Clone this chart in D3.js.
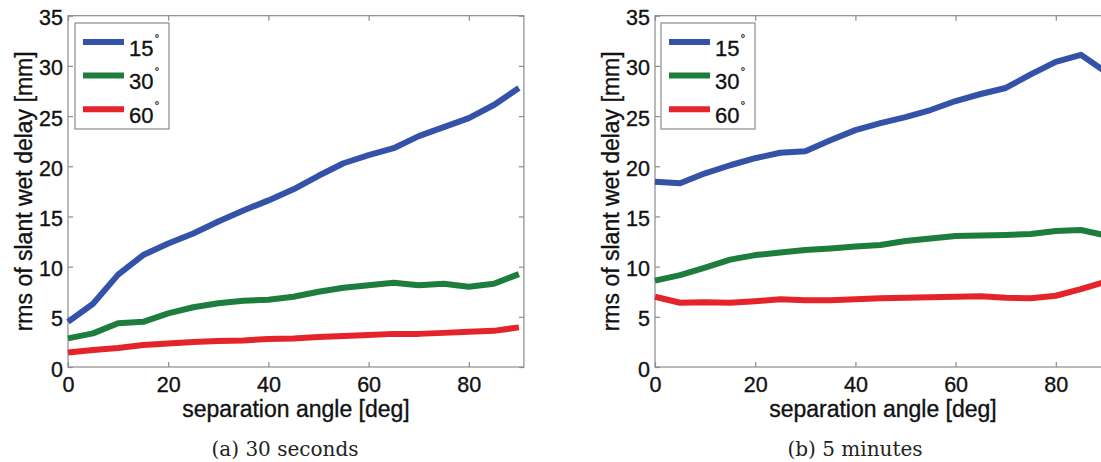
<!DOCTYPE html>
<html>
<head>
<meta charset="utf-8">
<script src="https://cdn.jsdelivr.net/npm/d3@7"></script>
<style>
  html, body { margin: 0; padding: 0; background: #fff; }
  svg { display: block; }
</style>
</head>
<body>
<svg id="chart" width="1101" height="462"></svg>
<script>
// ---- data ----
const angles = [0, 5, 10, 15, 20, 25, 30, 35, 40, 45, 50, 55, 60, 65, 70, 75, 80, 85, 90];
const seriesNames = ["15", "30", "60"];
const xTicks = [0, 20, 40, 60, 80];
const yTicks = [0, 5, 10, 15, 20, 25, 30, 35];

// panel (a) 30 seconds
const a15 = [4.5, 6.3, 9.2, 11.15, 12.3, 13.3, 14.5, 15.6, 16.6, 17.7, 19.05, 20.3, 21.1, 21.8, 23.0, 23.9, 24.8, 26.1, 27.8];
const a30 = [2.85, 3.35, 4.35, 4.5, 5.35, 5.95, 6.35, 6.6, 6.7, 7.0, 7.5, 7.9, 8.15, 8.4, 8.15, 8.3, 8.0, 8.3, 9.25];
const a60 = [1.45, 1.7, 1.9, 2.2, 2.35, 2.5, 2.6, 2.65, 2.8, 2.85, 3.0, 3.1, 3.2, 3.3, 3.3, 3.4, 3.5, 3.6, 3.95];

// panel (b) 5 minutes
const b15 = [18.45, 18.3, 19.3, 20.1, 20.8, 21.35, 21.5, 22.6, 23.6, 24.3, 24.9, 25.6, 26.5, 27.2, 27.8, 29.15, 30.4, 31.1, 29.4];
const b30 = [8.6, 9.15, 9.9, 10.7, 11.15, 11.4, 11.65, 11.8, 12.0, 12.15, 12.55, 12.8, 13.05, 13.1, 13.15, 13.25, 13.55, 13.65, 13.1];
const b60 = [7.0, 6.4, 6.45, 6.4, 6.55, 6.75, 6.65, 6.65, 6.75, 6.85, 6.9, 6.95, 7.0, 7.05, 6.9, 6.85, 7.1, 7.75, 8.5];

const captions = ["(a) 30 seconds", "(b) 5 minutes"];
const xLabel = "separation angle [deg]";
const yLabel = "rms of slant wet delay [mm]";

// ---- styles ----
const colors = ["#3352a8", "#1c7d3c", "#e4232b"];
const axisColor = "#8c8c8c";
const sans = "'Liberation Sans', Arial, Helvetica, sans-serif";
const serif = "'DejaVu Serif', 'Liberation Serif', serif";

const svg = d3.select("#chart");

const panels = [
  { left: 68, top: 15.7, bottom: 367, series: [a15, a30, a60], caption: captions[0], capX: 285, legX: 75 },
  { left: 655, top: 15.7, bottom: 367, series: [b15, b30, b60], caption: captions[1], capX: 855, legX: 661 }
];

const pxPerDeg = 5.01;
const xMax = 91;

function heavy(sel) {
  return sel.attr("stroke", "#111").attr("stroke-width", 0.35);
}

panels.forEach(p => {
  const right = p.left + xMax * pxPerDeg;
  const x = d3.scaleLinear().domain([0, xMax]).range([p.left, right]);
  const y = d3.scaleLinear().domain([0, 35]).range([p.bottom, p.top]);
  const g = svg.append("g");

  // frame
  g.append("rect")
    .attr("x", p.left).attr("y", p.top)
    .attr("width", right - p.left).attr("height", p.bottom - p.top)
    .attr("fill", "none").attr("stroke", axisColor).attr("stroke-width", 1.2);

  // axes with inward ticks
  const bottomAx = g.append("g").attr("transform", `translate(0,${p.bottom})`)
    .call(d3.axisBottom(x).tickValues(xTicks).tickSize(-5).tickPadding(10).tickFormat(d3.format("d")));
  const topAx = g.append("g").attr("transform", `translate(0,${p.top})`)
    .call(d3.axisTop(x).tickValues(xTicks).tickSize(-5).tickFormat(""));
  const leftAx = g.append("g").attr("transform", `translate(${p.left},0)`)
    .call(d3.axisLeft(y).tickValues(yTicks).tickSize(-5).tickPadding(5).tickFormat(d3.format("d")));
  const rightAx = g.append("g").attr("transform", `translate(${right},0)`)
    .call(d3.axisRight(y).tickValues(yTicks).tickSize(-5).tickFormat(""));

  [bottomAx, topAx, leftAx, rightAx].forEach(ax => {
    ax.select(".domain").remove();
    ax.selectAll(".tick line").attr("stroke", axisColor).attr("stroke-width", 1.2);
    heavy(ax.selectAll(".tick text").attr("fill", "#111").style("font-family", sans).style("font-size", "21.5px"));
  });
  leftAx.selectAll(".tick text").attr("dy", "0.42em");
  bottomAx.selectAll(".tick text").attr("dy", "0.72em");

  // lines
  const line = d3.line().x((d, i) => x(angles[i])).y(d => y(d));
  p.series.forEach((s, i) => {
    g.append("path").datum(s)
      .attr("d", line)
      .attr("fill", "none")
      .attr("stroke", colors[i])
      .attr("stroke-width", 6)
      .attr("stroke-linejoin", "round")
      .attr("stroke-linecap", "butt");
  });

  // axis labels
  heavy(g.append("text")
    .attr("x", (p.left + right) / 2).attr("y", 417)
    .attr("text-anchor", "middle")
    .style("font-family", sans).style("font-size", "23px").attr("fill", "#111")
    .text(xLabel));
  heavy(g.append("text")
    .attr("transform", `translate(${p.left - 36},${(p.top + p.bottom) / 2}) rotate(-90)`)
    .attr("text-anchor", "middle")
    .style("font-family", sans).style("font-size", "23px").attr("fill", "#111")
    .text(yLabel));

  // caption
  g.append("text")
    .attr("x", p.capX).attr("y", 456)
    .attr("text-anchor", "middle")
    .style("font-family", serif).style("font-size", "20px").attr("fill", "#222")
    .text(p.caption);

  // legend
  const lg = g.append("g");
  lg.append("rect")
    .attr("x", p.legX).attr("y", 23)
    .attr("width", 94).attr("height", 106)
    .attr("fill", "#fff").attr("stroke", axisColor).attr("stroke-width", 1.2);
  seriesNames.forEach((name, i) => {
    const ly = 42 + i * 33.6;
    lg.append("line")
      .attr("x1", p.legX + 8).attr("x2", p.legX + 49)
      .attr("y1", ly).attr("y2", ly)
      .attr("stroke", colors[i]).attr("stroke-width", 6);
    const t = heavy(lg.append("text")
      .attr("x", p.legX + 54).attr("y", ly + 13.5)
      .style("font-family", sans).style("font-size", "22px").attr("fill", "#111"));
    t.append("tspan").text(name);
    t.append("tspan").attr("dx", 1).attr("dy", -13).style("font-size", "12px").attr("stroke-width", 0.2).text("°");
  });
});
</script>
</body>
</html>
